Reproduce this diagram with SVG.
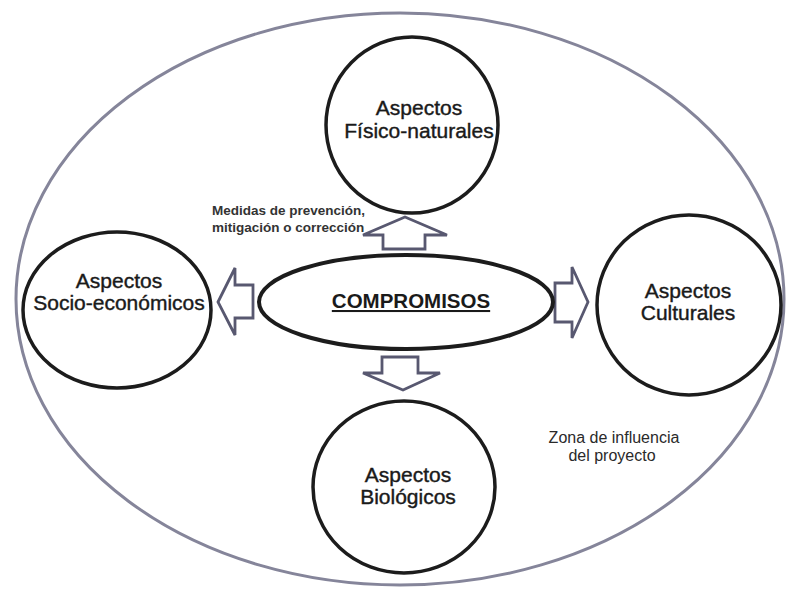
<svg xmlns="http://www.w3.org/2000/svg" width="788" height="595" viewBox="0 0 788 595">
<style>
.bg{fill:#ffffff}
.zone{fill:none;stroke:#85859a;stroke-width:3}
.node{fill:#ffffff;stroke:#1c1c1c;stroke-width:3.5}
.lbl{font-family:"Liberation Sans",Arial,sans-serif;font-size:21px;fill:#1a1a1a;stroke:#1a1a1a;stroke-width:0.4;text-anchor:middle}
.core{font-family:"Liberation Sans",Arial,sans-serif;font-size:20.5px;font-weight:bold;fill:#1a1a1a;text-anchor:middle;text-decoration:underline}
.note{font-family:"Liberation Sans",Arial,sans-serif;font-size:13.5px;font-weight:bold;fill:#333333}
.zn{font-family:"Liberation Sans",Arial,sans-serif;font-size:16px;fill:#2a2a2a;text-anchor:middle}
.arr{fill:#ffffff;stroke:#585870;stroke-width:2.8;stroke-linejoin:miter}
</style>
<rect class="bg" x="0" y="0" width="788" height="595"/>
<g id="zona">
  <ellipse class="zone" cx="400" cy="299" rx="384" ry="286"/>
  <text class="zn" x="614" y="443">Zona de influencia</text>
  <text class="zn" x="612" y="461">del proyecto</text>
</g>
<g id="connectors">
  <polygon class="arr" points="405,217 447,235 425,235 425,249 383,249 383,235 363,235"/>
  <polygon class="arr" points="382,357 418,357 418,373 440,373 403,390 363,373 382,373"/>
  <polygon class="arr" points="218,302 235,268 235,285 253,285 253,318 235,318 235,335"/>
  <polygon class="arr" points="555,283 572,283 572,267 588,302 572,338 572,322 555,322"/>
  <text class="note" x="212" y="215">Medidas de prevención,</text>
  <text class="note" x="212" y="232">mitigación o corrección</text>
</g>
<g id="compromisos">
  <ellipse class="node" cx="406" cy="302" rx="147" ry="47" style="stroke-width:4"/>
  <text class="core" x="411" y="308">COMPROMISOS</text>
</g>
<g id="fisico-naturales">
  <ellipse class="node" cx="412" cy="125" rx="86" ry="88"/>
  <text class="lbl" x="419" y="115">Aspectos</text>
  <text class="lbl" x="419" y="138">Físico-naturales</text>
</g>
<g id="socio-economicos">
  <ellipse class="node" cx="117" cy="310" rx="94" ry="78"/>
  <text class="lbl" x="119" y="288">Aspectos</text>
  <text class="lbl" x="119" y="310">Socio-económicos</text>
</g>
<g id="culturales">
  <ellipse class="node" cx="689" cy="305" rx="92" ry="90"/>
  <text class="lbl" x="688" y="298">Aspectos</text>
  <text class="lbl" x="688" y="320">Culturales</text>
</g>
<g id="biologicos">
  <ellipse class="node" cx="404" cy="487" rx="91" ry="86"/>
  <text class="lbl" x="408" y="482">Aspectos</text>
  <text class="lbl" x="408" y="504">Biológicos</text>
</g>
</svg>
